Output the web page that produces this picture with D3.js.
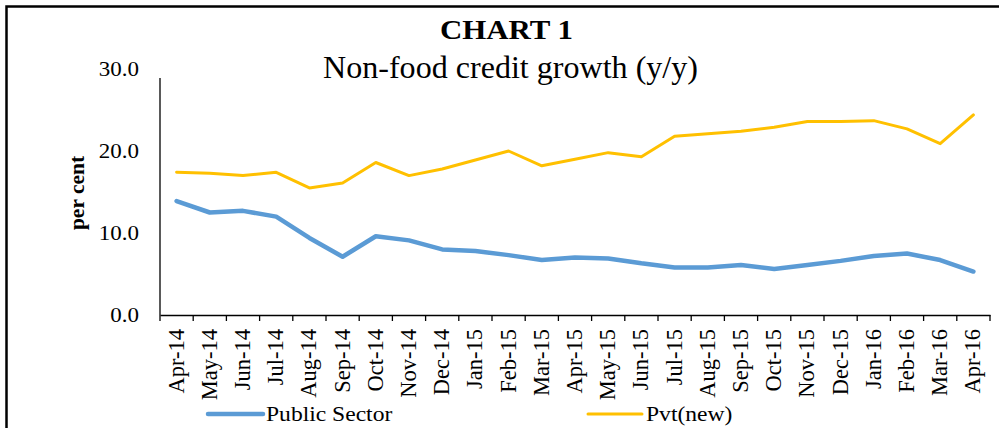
<!DOCTYPE html>
<html><head><meta charset="utf-8">
<script src="https://cdn.jsdelivr.net/npm/d3@7"></script>
<style>html,body{margin:0;padding:0;background:#fff;overflow:hidden}svg{display:block}</style>
</head><body>
<script>
const months = ["Apr-14","May-14","Jun-14","Jul-14","Aug-14","Sep-14","Oct-14","Nov-14","Dec-14","Jan-15","Feb-15","Mar-15","Apr-15","May-15","Jun-15","Jul-15","Aug-15","Sep-15","Oct-15","Nov-15","Dec-15","Jan-16","Feb-16","Mar-16","Apr-16"];
const publicSector = [13.9,12.5,12.7,12.0,9.4,7.1,9.6,9.1,8.0,7.8,7.3,6.7,7.0,6.9,6.3,5.8,5.8,6.1,5.6,6.1,6.6,7.2,7.5,6.7,5.3];
const pvtNew = [17.4,17.3,17.0,17.4,15.5,16.1,18.6,17.0,17.8,18.9,20.0,18.2,19.0,19.8,19.3,21.8,22.1,22.4,22.9,23.6,23.6,23.7,22.7,20.9,24.4];
const yTicks = [0,10,20,30];
const seriesNames = ["Public Sector","Pvt(new)"];
const colors = ["#5B9BD5","#FFC000"];

const W = 999, H = 428;
const FONT = "'Liberation Serif','Times New Roman',serif";
const svg = d3.select("body").append("svg").attr("width", W).attr("height", H);
svg.append("rect").attr("width", W).attr("height", H).attr("fill", "#fff");
svg.append("rect").attr("x", 6.5).attr("y", 6.5).attr("width", 1200).attr("height", 600)
  .attr("fill", "none").attr("stroke", "#000").attr("stroke-width", 2.5);

const x = d3.scaleBand().domain(months).range([160, 990]).padding(0);
const y = d3.scaleLinear().domain([0, 30]).range([315, 69]);

function stretchText(g, txt, tx, ty, opts) {
  return g.append("text").attr("transform", `translate(${tx},${ty}) scale(1.15,1)`)
    .attr("font-family", FONT).attr("font-size", opts.size).attr("font-weight", opts.weight || "normal")
    .attr("text-anchor", opts.anchor || "start").attr("fill", "#000").text(txt);
}

// Title
svg.append("text").attr("x", 440).attr("y", 39).attr("font-family", FONT).attr("font-size", 28)
  .attr("font-weight", "bold").attr("textLength", 133).attr("lengthAdjust", "spacingAndGlyphs").text("CHART 1");
svg.append("text").attr("x", 323).attr("y", 78).attr("font-family", FONT).attr("font-size", 31)
  .attr("textLength", 375).attr("lengthAdjust", "spacingAndGlyphs").text("Non-food credit growth (y/y)");

// Y axis
const yAxis = svg.append("g").attr("transform", "translate(160,0)")
  .call(d3.axisLeft(y).tickValues(yTicks).tickSize(0).tickFormat(d3.format(".1f")));
yAxis.select(".domain").remove();
yAxis.selectAll("text").remove();
yTicks.forEach(t => stretchText(svg, d3.format(".1f")(t), 139, y(t) + 7, {size: 20, anchor: "end"}));
svg.append("line").attr("x1", 160).attr("x2", 160).attr("y1", 78).attr("y2", y(0))
  .attr("stroke", "#000").attr("stroke-width", 1.3);
svg.append("text").attr("transform", `translate(84,${193}) rotate(-90)`).attr("text-anchor", "middle")
  .attr("font-family", FONT).attr("font-size", 21.5).attr("font-weight", "bold").text("per cent");

// X axis
const xAxis = svg.append("g").attr("transform", `translate(0,${y(0)})`)
  .call(d3.axisBottom(x).tickSize(0).tickFormat(""));
xAxis.select(".domain").attr("stroke", "#000").attr("stroke-width", 1.3);
const bounds = months.map(m => x(m)).concat([x.range()[1]]);
xAxis.selectAll(".bnd").data(bounds).join("line").attr("class", "bnd")
  .attr("x1", d => d).attr("x2", d => d).attr("y1", 0).attr("y2", 6)
  .attr("stroke", "#000").attr("stroke-width", 1.3);
svg.selectAll(".xl").data(months).join("text").attr("class", "xl")
  .attr("transform", d => `translate(${x(d) + x.bandwidth() / 2 + 7},329) rotate(-90)`)
  .attr("text-anchor", "end").attr("font-family", FONT).attr("font-size", 22.5).text(d => d);

// Lines
const line = d3.line().x((d, i) => x(months[i]) + x.bandwidth() / 2).y(d => y(d));
svg.append("path").datum(publicSector).attr("d", line).attr("fill", "none")
  .attr("stroke", colors[0]).attr("stroke-width", 4.5).attr("stroke-linejoin", "round").attr("stroke-linecap", "round");
svg.append("path").datum(pvtNew).attr("d", line).attr("fill", "none")
  .attr("stroke", colors[1]).attr("stroke-width", 3).attr("stroke-linejoin", "round").attr("stroke-linecap", "round");

// Legend
const legendPos = [[208, 263, 266], [588, 642, 646]];
seriesNames.forEach((n, i) => {
  const [x1, x2, tx] = legendPos[i];
  svg.append("line").attr("x1", x1).attr("x2", x2).attr("y1", 414).attr("y2", 414)
    .attr("stroke", colors[i]).attr("stroke-width", i === 0 ? 4.5 : 3).attr("stroke-linecap", "round");
  stretchText(svg, n, tx, 421, {size: 20.5});
});
</script>
</body></html>
